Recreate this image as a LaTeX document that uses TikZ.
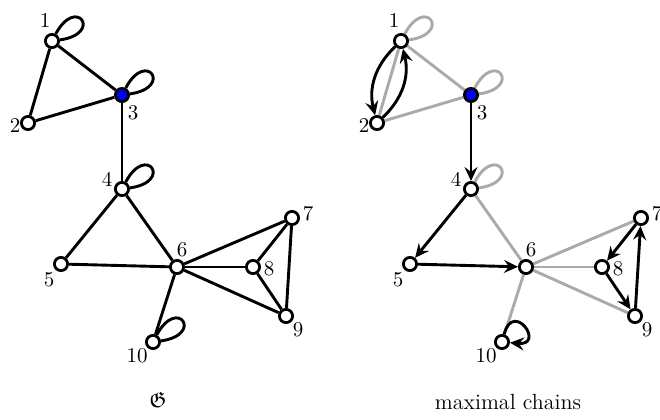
\documentclass[tikz,border=0pt]{standalone}
\usepackage{amssymb}
\usetikzlibrary{arrows.meta,backgrounds}
\definecolor{lgray}{RGB}{170,170,170}
\begin{document}
\begin{tikzpicture}[x=0.5pt,y=-0.5pt,
  vtx/.style={circle,draw=black,fill=white,line width=1.4pt,minimum size=6.6pt,inner sep=0pt},
  lbl/.style={inner sep=0pt,font=\fontsize{10.5}{12}\selectfont},
  edg/.style={line width=1.45pt,black},
  gedg/.style={line width=1.45pt,lgray},
  arr/.style={line width=1.45pt,black,-{Stealth[length=7pt,width=6.5pt,inset=2.5pt]}},
  lp/.style={out=8,in=62,min distance=22pt}]
\useasboundingbox (0,0) rectangle (660,419);
\foreach \p/\dx in {a/0,b/349}{
\begin{scope}[xshift=\dx*0.5pt]
\node[vtx] (\p1) at (52,41) {};
\node[vtx] (\p2) at (28,123) {};
\node[vtx,fill=blue] (\p3) at (122,95) {};
\node[vtx] (\p4) at (122,189) {};
\node[vtx] (\p5) at (61,264) {};
\node[vtx] (\p6) at (177,267) {};
\node[vtx] (\p7) at (292,218) {};
\node[vtx] (\p8) at (253,267) {};
\node[vtx] (\p9) at (286,316) {};
\node[vtx] (\p10) at (153,342) {};
\node[lbl] (\p l1) at ([shift={(-7,-20)}]\p1) {1};
\node[lbl] (\p l2) at ([shift={(-13,2)}]\p2) {2};
\node[lbl] (\p l3) at ([shift={(11,18)}]\p3) {3};
\node[lbl] (\p l4) at ([shift={(-15,-10)}]\p4) {4};
\node[lbl] (\p l5) at ([shift={(-12,16)}]\p5) {5};
\node[lbl] (\p l6) at ([shift={(5,-17)}]\p6) {6};
\node[lbl] (\p l7) at ([shift={(16,-4)}]\p7) {7};
\node[lbl] (\p l8) at ([shift={(16,2)}]\p8) {8};
\node[lbl] (\p l9) at ([shift={(12,14)}]\p9) {9};
\node[lbl] (\p l10) at ([shift={(-16,14)}]\p10) {10};
\end{scope}
}
\node[inner sep=0pt,font=\fontsize{11}{13}\selectfont] (capa) at (158,400) {$\mathfrak{G}$};
\node[inner sep=0pt,font=\fontsize{11}{13}\selectfont] (capb) at (508,402) {maximal chains};
\begin{scope}[on background layer]
% left graph
\foreach \u/\v in {1/2,1/3,2/3,3/4,4/5,4/6,5/6,6/7,6/8,6/9,6/10,7/8,7/9,8/9}
  \draw[edg] (a\u) -- (a\v);
\foreach \u in {1,3,4,10}
  \draw[edg] (a\u) to[lp] (a\u);
% right graph
\foreach \u/\v in {1/2,1/3,2/3,4/6,6/7,6/8,6/9,6/10}
  \draw[gedg] (b\u) -- (b\v);
\foreach \u in {1,3,4}
  \draw[gedg] (b\u) to[lp] (b\u);
\end{scope}
\draw[arr] (b1) to[bend right=30] (b2);
\draw[arr] (b2) to[bend right=30] (b1);
\draw[arr] (b3) -- (b4);
\draw[arr] (b4) -- (b5);
\draw[arr] (b5) -- (b6);
\draw[arr] (b7) -- (b8);
\draw[arr] (b8) -- (b9);
\draw[arr] (b9) -- (b7);
\draw[arr] (b10) to[out=75,in=-5,min distance=18pt] (b10);
\end{tikzpicture}
\end{document}
